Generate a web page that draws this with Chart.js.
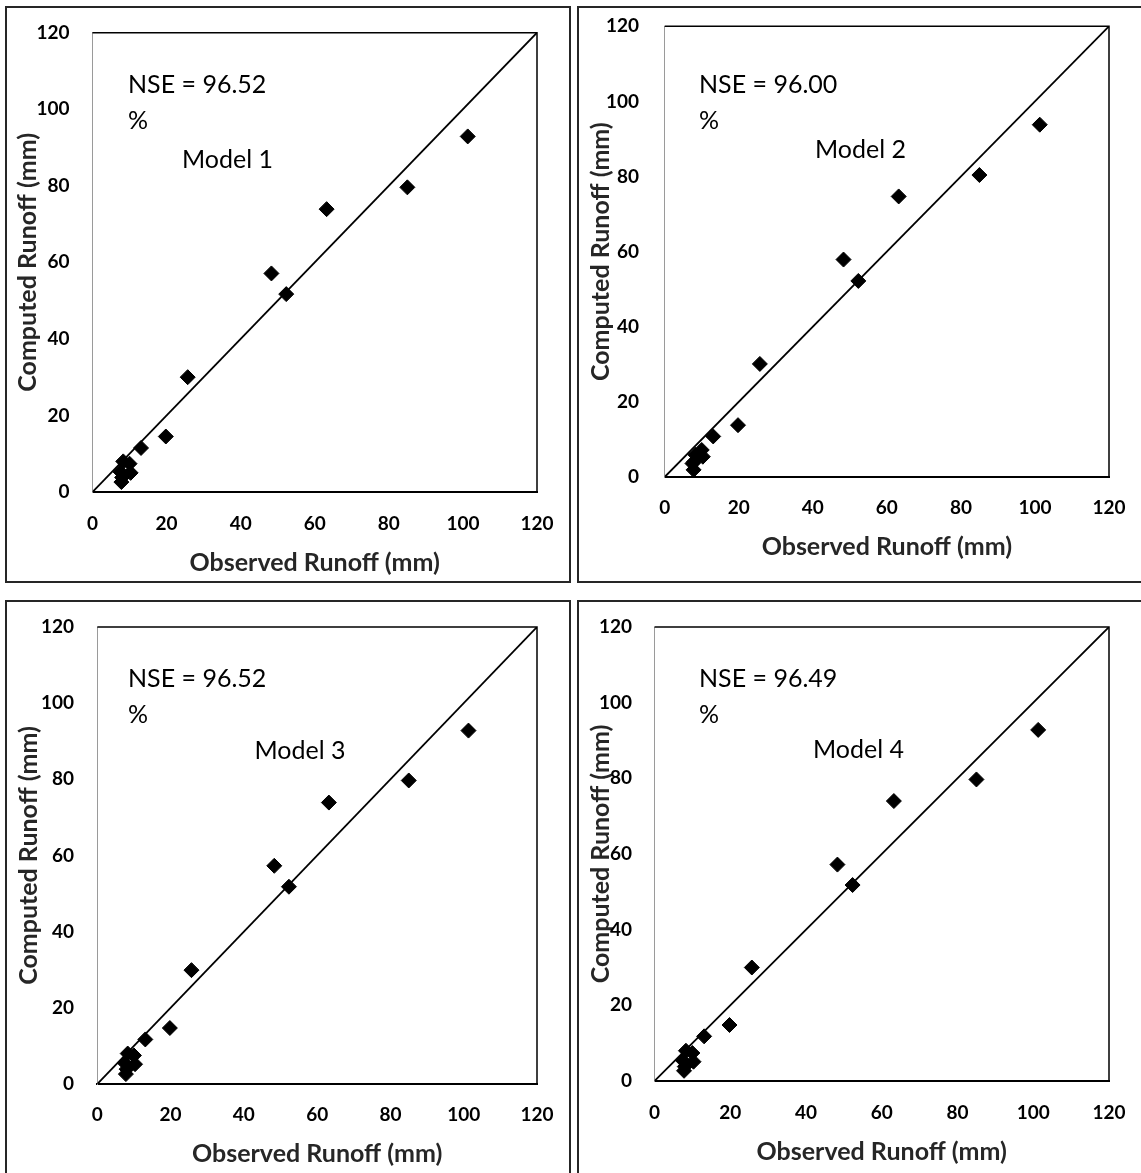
<!DOCTYPE html>
<html>
<head>
<meta charset="utf-8">
<script src="https://cdn.jsdelivr.net/npm/chart.js@4.4.1/dist/chart.umd.min.js"></script>
<style>
    html, body {
        margin: 0;
        padding: 0;
        width: 1141px;
        height: 1173px;
        overflow: hidden;
        background: #fff;
    }
    .panel {
        position: absolute;
        border: 2px solid #262626;
        background: #fff;
    }
    .panel canvas {
        position: absolute;
        left: 0;
        top: 0;
    }
</style>
</head>
<body>
<div class="panel" style="left:5px;top:6px;width:562px;height:573px"><canvas id="model1" width="562" height="573"></canvas></div>
<div class="panel" style="left:577px;top:6px;width:600px;height:573px"><canvas id="model2" width="562" height="573"></canvas></div>
<div class="panel" style="left:5px;top:600px;width:562px;height:600px"><canvas id="model3" width="562" height="571"></canvas></div>
<div class="panel" style="left:577px;top:600px;width:600px;height:600px"><canvas id="model4" width="562" height="571"></canvas></div>

<script>
// observed runoff (mm), same events in every model
const observed = [101.3, 85.0, 63.2, 48.3, 52.3, 25.7, 19.8, 13.1, 10.0, 8.3, 10.3, 7.5, 8.0, 7.8];

// computed runoff (mm) for each model
const model1 = [92.9, 79.6, 73.9, 57.1, 51.7, 30.0, 14.5, 11.5, 7.4, 8.0, 5.0, 5.3, 3.8, 2.6];
const model2 = [93.8, 80.4, 74.7, 57.9, 52.2, 30.1, 13.8, 10.8, 7.2, 5.9, 5.4, 3.6, 4.1, 1.9];
const model3 = [92.8, 79.7, 73.9, 57.3, 51.8, 29.9, 14.7, 11.7, 7.5, 8.0, 5.2, 5.5, 3.9, 2.6];
const model4 = [92.8, 79.7, 74.0, 57.2, 51.8, 30.0, 14.8, 11.8, 7.4, 8.0, 5.1, 5.4, 3.8, 2.7];

const modelNames = ["Model 1", "Model 2", "Model 3", "Model 4"];
const nseLabels = ["NSE = 96.52", "NSE = 96.00", "NSE = 96.52", "NSE = 96.49"];

// 1:1 line and axis ticks
const oneToOne = [0, 120];
const tickValues = [0, 20, 40, 60, 80, 100, 120];

const xTitle = "Observed Runoff (mm)";
const yTitle = "Computed Runoff (mm)";

// page layout of each panel (canvas origin, plot area, title centres)
const layouts = [
    { ox: 7, oy: 8, w: 562, h: 573, area: [92.5, 32.7, 537, 492], yTitleX: 28, xTitleY: 563, yGap: 23, xGap: 32,
      nse: [35.5, 52.3], pct: 88.3, model: [89.5, 127.3] },
    { ox: 579, oy: 8, w: 562, h: 573, area: [664.7, 26.3, 1109, 477], yTitleX: 601, xTitleY: 547, yGap: 25.7, xGap: 31,
      nse: [34.3, 58.7], pct: 94.7, model: [150.3, 123.7] },
    { ox: 7, oy: 602, w: 562, h: 571, area: [97.3, 627, 537, 1084], yTitleX: 29, xTitleY: 1154, yGap: 23.3, xGap: 31,
      nse: [30.7, 52], pct: 88, model: [157.2, 124] },
    { ox: 579, oy: 602, w: 562, h: 571, area: [654.5, 627, 1109, 1081], yTitleX: 601, xTitleY: 1151.5, yGap: 22.5, xGap: 31.5,
      nse: [44.5, 52], pct: 88, model: [158.5, 123] },
];

const tickFont = { family: "Lato", size: 19, weight: "bold", lineHeight: 1.2 };
const titleFont = { family: "Lato", size: 25, weight: "bold", lineHeight: 1.2 };

const frame = {
    id: "frame",
    beforeDatasetsDraw(chart) {
        const { ctx, chartArea: a } = chart;
        ctx.save();
        ctx.strokeStyle = "#000";
        ctx.lineWidth = 1.5;
        ctx.beginPath();
        ctx.moveTo(a.left, a.top);
        ctx.lineTo(a.right, a.top);
        ctx.lineTo(a.right, a.bottom);
        ctx.stroke();
        ctx.restore();
    },
    afterDraw(chart) {
        const { ctx, chartArea: a } = chart;
        const note = chart.options.plugins.frame;
        ctx.save();
        ctx.fillStyle = "#000";
        ctx.font = "25px Lato";
        ctx.textBaseline = "middle";
        ctx.textAlign = "left";
        ctx.fillText(note.nse, a.left + note.nsePos[0], a.top + note.nsePos[1]);
        ctx.fillText("%", a.left + note.nsePos[0], a.top + note.pct);
        ctx.fillText(note.model, a.left + note.modelPos[0], a.top + note.modelPos[1]);
        ctx.restore();
    },
};

const makeChart = (index, computed) => {
    const lay = layouts[index];
    const lh = titleFont.size * titleFont.lineHeight;
    const tickLh = tickFont.size * tickFont.lineHeight;
    const [L, T, R, B] = lay.area;

    const padLeft = lay.yTitleX - lh / 2 - lay.ox;
    const padTop = T - lay.oy;
    const padRight = lay.ox + lay.w - R;
    const padBottom = lay.oy + lay.h - (lay.xTitleY + lh / 2);
    const yWidth = L - lay.ox - padLeft;
    const xHeight = lay.oy + lay.h - padBottom - B;

    const points = observed.map((x, i) => ({ x: x, y: computed[i] }));
    const line = oneToOne.map((v) => ({ x: v, y: v }));

    const ctx = document.getElementById("model" + (index + 1)).getContext("2d");

    return new Chart(ctx, {
        type: "scatter",
        data: {
            datasets: [
                {
                    label: "Computed",
                    data: points,
                    pointStyle: "rectRot",
                    pointRadius: 7.5,
                    backgroundColor: "#000",
                    borderColor: "#000",
                    borderWidth: 1,
                    order: 1,
                },
                {
                    type: "line",
                    label: "1:1",
                    data: line,
                    borderColor: "#000",
                    borderWidth: 1.8,
                    pointRadius: 0,
                    fill: false,
                    order: 2,
                },
            ],
        },
        options: {
            responsive: false,
            animation: false,
            layout: {
                padding: { left: padLeft, top: padTop, right: padRight, bottom: padBottom },
            },
            plugins: {
                legend: { display: false },
                tooltip: { enabled: false },
                frame: {
                    nse: nseLabels[index],
                    model: modelNames[index],
                    nsePos: lay.nse,
                    pct: lay.pct,
                    modelPos: lay.model,
                },
            },
            scales: {
                x: {
                    type: "linear",
                    min: 0,
                    max: 120,
                    afterBuildTicks: (scale) => {
                        scale.ticks = tickValues.map((v) => ({ value: v }));
                    },
                    afterFit: (scale) => {
                        scale.height = xHeight;
                    },
                    // invisible tick marks keep the label gap without padding the ends
                    grid: { display: false, drawTicks: true, tickLength: lay.xGap - tickLh / 2 },
                    border: { display: true, color: "#000", width: 2 },
                    ticks: {
                        color: "#000",
                        font: tickFont,
                        padding: 0,
                        maxRotation: 0,
                    },
                    title: {
                        display: true,
                        text: xTitle,
                        color: "#262626",
                        font: titleFont,
                        padding: 0,
                    },
                },
                y: {
                    type: "linear",
                    min: 0,
                    max: 120,
                    afterBuildTicks: (scale) => {
                        scale.ticks = tickValues.map((v) => ({ value: v }));
                    },
                    afterFit: (scale) => {
                        scale.width = yWidth;
                    },
                    grid: { display: false, drawTicks: true, tickLength: lay.yGap },
                    border: { display: true, color: "#9a9a9a", width: 1 },
                    ticks: {
                        color: "#000",
                        font: tickFont,
                        padding: 0,
                    },
                    title: {
                        display: true,
                        text: yTitle,
                        color: "#262626",
                        font: titleFont,
                        padding: 0,
                    },
                },
            },
        },
        plugins: [frame],
    });
};

const draw = () => {
    makeChart(0, model1);
    makeChart(1, model2);
    makeChart(2, model3);
    makeChart(3, model4);
};

Promise.all([
    document.fonts.load("bold 19px Lato"),
    document.fonts.load("25px Lato"),
]).then(draw, draw);
</script>
</body>
</html>
